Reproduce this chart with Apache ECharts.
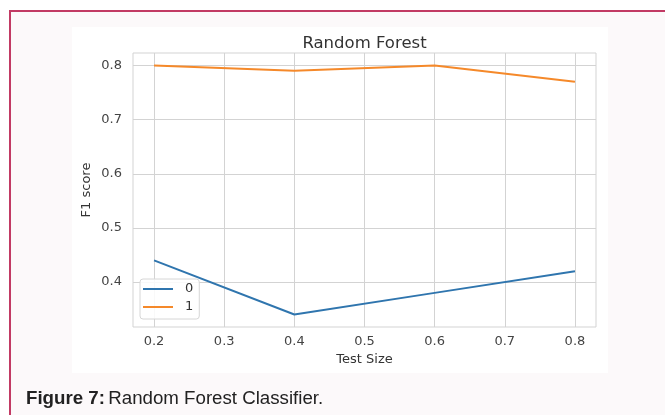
<!DOCTYPE html>
<html>
<head>
<meta charset="utf-8">
<style>
  html, body { margin: 0; padding: 0; background: #ffffff; }
  #chart { width: 665px; height: 415px; }
</style>
<script src="https://cdn.jsdelivr.net/npm/echarts@6/dist/echarts.min.js"></script>
</head>
<body>
<div id="chart"></div>
<script>
// Test sizes used for the split and the F1 score of each class
const testSizes = [0.2, 0.4, 0.6, 0.8];
const f1Class0 = [0.44, 0.34, 0.38, 0.42];
const f1Class1 = [0.80, 0.79, 0.80, 0.77];
const seriesNames = ['0', '1'];
const xTicks = [0.2, 0.3, 0.4, 0.5, 0.6, 0.7, 0.8];
const yTicks = [0.4, 0.5, 0.6, 0.7, 0.8];

const blue = '#2f75ae';
const orange = '#f5892a';
const gridColor = '#d3d3d3';
const font = 'DejaVu Sans';

const chart = echarts.init(document.getElementById('chart'), null, { renderer: 'canvas' });

const pairs = (xs, ys) => xs.map((x, i) => [x, ys[i]]);

chart.setOption({
  backgroundColor: '#ffffff',
  animation: false,
  graphic: [
    // page frame with its coloured rule
    {
      type: 'rect', z: -10, silent: true,
      shape: { x: 10, y: 11, width: 700, height: 450 },
      style: { fill: '#fcf9fa', stroke: '#c23a64', lineWidth: 2 }
    },
    // white figure panel
    {
      type: 'rect', z: -9, silent: true,
      shape: { x: 72, y: 27, width: 536, height: 346 },
      style: { fill: '#ffffff' }
    },
    // plot title, centred over the plot area
    {
      type: 'text', z: 10, silent: true,
      x: 364.5, y: 44,
      style: {
        text: 'Random Forest', align: 'center', verticalAlign: 'middle',
        fontFamily: font, fontSize: 16.5, fill: '#333'
      }
    },
    // caption
    {
      type: 'text', z: 10, silent: true,
      left: 26, top: 389,
      style: {
        text: '{b|Figure 7:} {r|Random Forest Classifier.}',
        rich: {
          b: { fontFamily: 'Liberation Sans', fontWeight: 'bold', fontSize: 18.7, fill: '#222' },
          r: { fontFamily: 'Liberation Sans', fontSize: 18.7, fill: '#222' }
        }
      }
    }
  ],
  grid: {
    left: 133, top: 53, width: 463, height: 274,
    show: true, borderColor: gridColor, borderWidth: 1, backgroundColor: 'transparent'
  },
  legend: {
    left: 140, top: 279, orient: 'vertical',
    data: seriesNames,
    icon: 'rect', itemWidth: 30, itemHeight: 2, itemGap: 4,
    padding: [3, 6, 5, 3],
    borderColor: '#d6d6d6', borderWidth: 1, borderRadius: 3,
    backgroundColor: 'rgba(255,255,255,0.85)',
    textStyle: { fontFamily: font, fontSize: 13, color: '#333', lineHeight: 14, padding: [0, 0, 0, 7] }
  },
  xAxis: {
    type: 'value', min: 0.17, max: 0.83,
    name: 'Test Size', nameLocation: 'middle', nameGap: 25,
    nameTextStyle: { fontFamily: font, fontSize: 13, color: '#333' },
    axisLine: { show: false },
    axisTick: { show: false, customValues: xTicks },
    axisLabel: {
      customValues: xTicks, margin: 8,
      fontFamily: font, fontSize: 13, color: '#444',
      formatter: v => v.toFixed(1)
    },
    splitLine: { show: true, lineStyle: { color: gridColor, width: 1 } }
  },
  yAxis: {
    type: 'value', min: 0.317, max: 0.823,
    name: 'F1 score', nameLocation: 'middle', nameGap: 40, nameRotate: 90,
    nameMoveOverlap: false,
    nameTextStyle: { fontFamily: font, fontSize: 13, color: '#333' },
    axisLine: { show: false },
    axisTick: { show: false, customValues: yTicks },
    axisLabel: {
      customValues: yTicks, margin: 11,
      fontFamily: font, fontSize: 13, color: '#444',
      formatter: v => v.toFixed(1)
    },
    splitLine: { show: true, lineStyle: { color: gridColor, width: 1 } }
  },
  series: [
    {
      name: seriesNames[0], type: 'line', data: pairs(testSizes, f1Class0),
      showSymbol: false, symbol: 'none',
      lineStyle: { color: blue, width: 2 }, itemStyle: { color: blue }
    },
    {
      name: seriesNames[1], type: 'line', data: pairs(testSizes, f1Class1),
      showSymbol: false, symbol: 'none',
      lineStyle: { color: orange, width: 2 }, itemStyle: { color: orange }
    }
  ]
});
</script>
</body>
</html>
